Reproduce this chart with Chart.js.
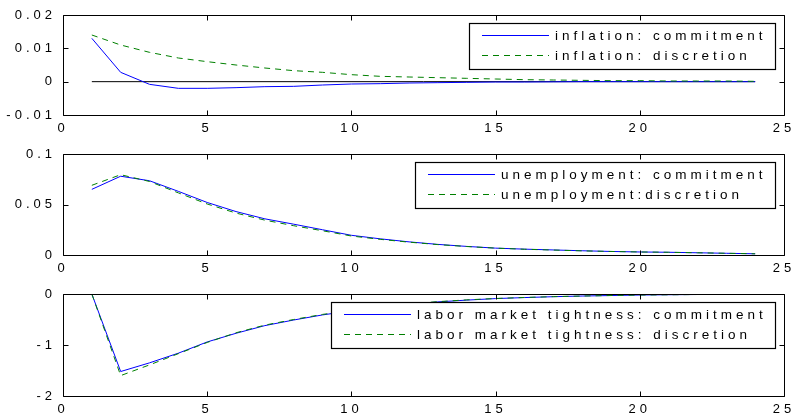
<!DOCTYPE html>
<html><head><meta charset="utf-8">
<script src="https://cdn.jsdelivr.net/npm/chart.js@4.4.1/dist/chart.umd.min.js"></script>
<style>
html,body{margin:0;padding:0;background:#fff;}
#wrap{position:relative;width:793px;height:418px;overflow:hidden;background:#fff;}
canvas{position:absolute;left:0;}
</style></head><body>
<div id="wrap">
<canvas id="c1" width="793" height="140" style="top:0px"></canvas>
<canvas id="c2" width="793" height="140" style="top:140px"></canvas>
<canvas id="c3" width="793" height="138" style="top:280px"></canvas>
</div>
<script>
// ---- data ----
const periods = [1,2,3,4,5,6,7,8,9,10,11,12,13,14,15,16,17,18,19,20,21,22,23,24];
const xTicks = [0,5,10,15,20,25];

const inflationCommitment = [0.013,0.0028,-0.0008,-0.002,-0.002,-0.0018,-0.0015,-0.0014,-0.001,-0.0007,-0.0006,-0.0004,-0.0003,-0.0002,-0.0001,-0.0001,-0.00005,0,0,0,0,0,0,0];
const inflationDiscretion = [0.014,0.011,0.0088,0.0071,0.006,0.005,0.0041,0.0033,0.0028,0.0021,0.0016,0.0014,0.0012,0.001,0.0008,0.0006,0.0005,0.0004,0.0003,0.0003,0.0002,0.0002,0.0002,0.0001];
const inflationZero = [0,0]; // horizontal reference at 0 from period 1 to 24
const inflationZeroX = [1,24];
const inflationYTicks = [-0.01,0,0.01,0.02];

const unempCommitment = [0.065,0.078,0.0735,0.063,0.052,0.043,0.0358,0.0305,0.025,0.0195,0.016,0.013,0.0105,0.0085,0.0068,0.0058,0.005,0.0042,0.0035,0.003,0.0027,0.0022,0.0017,0.0012];
const unempDiscretion = [0.069,0.0795,0.0728,0.0615,0.0505,0.0415,0.0345,0.029,0.024,0.0188,0.0155,0.0127,0.0103,0.0084,0.0068,0.0057,0.0049,0.0041,0.0035,0.003,0.0027,0.0022,0.0017,0.0012];
const unempYTicks = [0,0.05,0.1];

const laborCommitment = [0,-1.52,-1.35,-1.16,-0.94,-0.77,-0.62,-0.51,-0.41,-0.33,-0.26,-0.2,-0.155,-0.12,-0.09,-0.07,-0.053,-0.04,-0.03,-0.02,-0.015,-0.01,-0.006,-0.003];
const laborDiscretion = [0,-1.6,-1.39,-1.17,-0.95,-0.76,-0.61,-0.5,-0.4,-0.325,-0.255,-0.195,-0.15,-0.115,-0.088,-0.068,-0.052,-0.04,-0.03,-0.02,-0.015,-0.01,-0.006,-0.003];
const laborYTicks = [-2,-1,0];

const labels1 = ['inflation: commitment','inflation: discretion'];
const labels2 = ['unemployment: commitment','unemployment:discretion'];
const labels3 = ['labor market tightness: commitment','labor market tightness: discretion'];

// ---- styling ----
const FONT = '"Liberation Sans", Arial, Helvetica, sans-serif';
const TICK_SPACING = '4px';
const LEG_SPACING = 4;
const BLUE = '#0000ff';
const GREEN = '#008000';

function pts(xs, ys){ return ys.map((y,i)=>({x:xs[i], y:y})); }
function fmt(v){ return String(Number(v.toFixed(6))); }

const matlabAxes = {
  id: 'matlabAxes',
  beforeDraw(chart){ chart.ctx.letterSpacing = TICK_SPACING; },
  afterDatasetsDraw(chart){
    const ctx = chart.ctx, a = chart.chartArea;
    const xs = chart.scales.x, ys = chart.scales.y;
    ctx.save();
    ctx.strokeStyle = '#000';
    ctx.lineWidth = 1;
    const L = Math.round(a.left)+0.5, R = Math.round(a.right)+0.5, T = Math.round(a.top)+0.5, B = Math.round(a.bottom)+0.5;
    ctx.beginPath();
    ctx.rect(L, T, R-L, B-T);
    xs.ticks.forEach(t=>{
      const p = Math.round(xs.getPixelForValue(t.value))+0.5;
      ctx.moveTo(p, B); ctx.lineTo(p, B-5);
      ctx.moveTo(p, T); ctx.lineTo(p, T+5);
    });
    ys.ticks.forEach(t=>{
      const p = Math.round(ys.getPixelForValue(t.value))+0.5;
      ctx.moveTo(L, p); ctx.lineTo(L+5, p);
      ctx.moveTo(R, p); ctx.lineTo(R-5, p);
    });
    ctx.stroke();
    ctx.restore();
  },
  afterDraw(chart){
    const ctx = chart.ctx, a = chart.chartArea;
    const items = chart.data.datasets.filter(d=>d.label);
    ctx.save();
    ctx.font = '13.5px ' + FONT;
    ctx.letterSpacing = LEG_SPACING + 'px';
    let tw = 0;
    items.forEach(d=>{ tw = Math.max(tw, ctx.measureText(d.label).width - LEG_SPACING); });
    const right = Math.round(a.right) - 9;
    const top = Math.round(a.top) + 8;
    const left = Math.round(right - 12 - tw - 6 - 67 - 13);
    const h = 46;
    ctx.fillStyle = '#fff';
    ctx.fillRect(left, top, right-left, h);
    ctx.strokeStyle = '#000';
    ctx.lineWidth = 1.2;
    ctx.strokeRect(left+0.5, top+0.5, right-left, h);
    items.forEach((d,i)=>{
      const y = top + 12 + i*20 + 0.5;
      ctx.beginPath();
      ctx.strokeStyle = d.borderColor;
      ctx.lineWidth = 1;
      ctx.setLineDash(d.borderDash || []);
      ctx.moveTo(left+13, y); ctx.lineTo(left+80, y);
      ctx.stroke();
      ctx.setLineDash([]);
      ctx.fillStyle = '#000';
      ctx.textBaseline = 'middle';
      ctx.textAlign = 'left';
      ctx.fillText(d.label, left+86, y+1);
    });
    ctx.restore();
  }
};

function makeChart(id, datasets, yMin, yMax, yTicks, padTop, xHeight){
  return new Chart(document.getElementById(id), {
    type: 'line',
    data: { datasets },
    options: {
      responsive: false,
      animation: false,
      devicePixelRatio: 1,
      events: [],
      layout: { padding: { top: padTop, right: 9, left: 0, bottom: 0 } },
      plugins: { legend: { display: false }, tooltip: { enabled: false } },
      elements: { point: { radius: 0 }, line: { tension: 0 } },
      scales: {
        x: {
          type: 'linear', min: 0, max: 25,
          grid: { display: false, drawTicks: false },
          border: { display: false },
          afterBuildTicks: s => { s.ticks = xTicks.map(v=>({value:v})); },
          afterFit: s => { s.height = xHeight; s.paddingLeft = 0; s.paddingRight = 0; },
          ticks: { color: '#000', font: { family: FONT, size: 13 }, padding: 6, maxRotation: 0, autoSkip: false,
                   callback: v => fmt(v) }
        },
        y: {
          type: 'linear', min: yMin, max: yMax,
          grid: { display: false, drawTicks: false },
          border: { display: false },
          afterBuildTicks: s => { s.ticks = yTicks.map(v=>({value:v})); },
          afterFit: s => { s.width = 63; s.paddingTop = 0; s.paddingBottom = 0; },
          ticks: { color: '#000', font: { family: FONT, size: 13 }, padding: 7, autoSkip: false,
                   callback: v => fmt(v) }
        }
      }
    },
    plugins: [matlabAxes]
  });
}

function series(label, xs, ys, color, dash, order){
  return { label, data: pts(xs, ys), borderColor: color, borderWidth: 1, borderDash: dash, order, fill: false };
}

makeChart('c1', [
  series(labels1[0], periods, inflationCommitment, BLUE, [], 1),
  series(labels1[1], periods, inflationDiscretion, GREEN, [6,5], 0),
  { data: pts(inflationZeroX, inflationZero), borderColor: '#000', borderWidth: 1, order: 2, fill: false }
], -0.01, 0.02, inflationYTicks, 15, 25);

makeChart('c2', [
  series(labels2[0], periods, unempCommitment, BLUE, [], 1),
  series(labels2[1], periods, unempDiscretion, GREEN, [6,5], 0)
], 0, 0.1, unempYTicks, 14, 25);

makeChart('c3', [
  series(labels3[0], periods, laborCommitment, BLUE, [], 1),
  series(labels3[1], periods, laborDiscretion, GREEN, [6,5], 0)
], -2, 0, laborYTicks, 14, 22);
</script>
</body></html>
